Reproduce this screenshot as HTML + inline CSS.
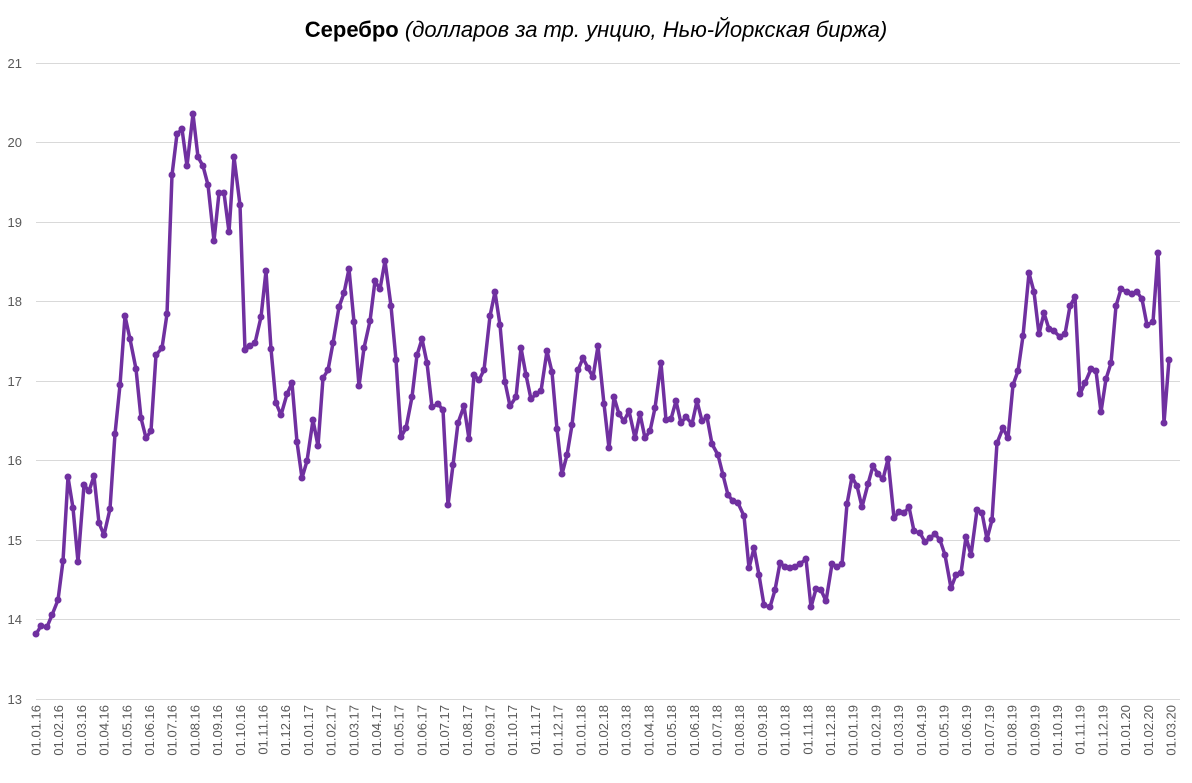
<!DOCTYPE html>
<html><head><meta charset="utf-8"><style>
body{margin:0;background:#fff;}
svg text{font-family:"Liberation Sans",sans-serif;fill:#595959;}
</style></head><body>
<svg width="1192" height="778" xmlns="http://www.w3.org/2000/svg">
<text x="596" y="37" text-anchor="middle" style="font-size:22px;fill:#000"><tspan font-weight="bold">Серебро</tspan><tspan font-style="italic"> (долларов за тр. унцию, Нью-Йоркская биржа)</tspan></text>
<g stroke="#d9d9d9" stroke-width="1">
<line x1="36" x2="1180" y1="63.5" y2="63.5"/><line x1="36" x2="1180" y1="142.5" y2="142.5"/><line x1="36" x2="1180" y1="222.5" y2="222.5"/><line x1="36" x2="1180" y1="301.5" y2="301.5"/><line x1="36" x2="1180" y1="381.5" y2="381.5"/><line x1="36" x2="1180" y1="460.5" y2="460.5"/><line x1="36" x2="1180" y1="540.5" y2="540.5"/><line x1="36" x2="1180" y1="619.5" y2="619.5"/><line x1="36" x2="1180" y1="699.5" y2="699.5"/>
</g>
<g font-size="13" text-anchor="end">
<text x="22" y="68">21</text><text x="22" y="147">20</text><text x="22" y="227">19</text><text x="22" y="306">18</text><text x="22" y="386">17</text><text x="22" y="465">16</text><text x="22" y="545">15</text><text x="22" y="624">14</text><text x="22" y="704">13</text>
</g>
<g id="xl" font-size="13" text-anchor="end"></g>
<polyline id="ln" fill="none" stroke="#7030a0" stroke-width="3.5" stroke-linejoin="round" points=""/>
<g id="dots" fill="#7030a0"></g>
</svg>
<script>
var p=[36,634,41,626,47,627,52,615,58,600,63,561,68,477,73,508,78,562,84,485,89,491,94,476,99,523,104,535,110,509,115,434,120,385,125,316,130,339,136,369,141,418,146,438,151,431,156,355,162,348,167,314,172,175,177,134,182,129,187,166,193,114,198,157,203,166,208,185,214,241,219,193,224,193,229,232,234,157,240,205,245,350,250,346,255,343,261,317,266,271,271,349,276,403,281,415,287,394,292,383,297,442,302,478,307,461,313,420,318,446,323,378,328,370,333,343,339,307,344,293,349,269,354,322,359,386,364,348,370,321,375,281,380,289,385,261,391,306,396,360,401,437,406,428,412,397,417,355,422,339,427,363,432,407,438,404,443,410,448,505,453,465,458,423,464,406,469,439,474,375,479,380,484,370,490,316,495,292,500,325,505,382,510,406,516,397,521,348,526,375,531,399,536,394,541,391,547,351,552,372,557,429,562,474,567,455,572,425,578,370,583,358,588,368,593,377,598,346,604,404,609,448,614,397,619,414,624,421,629,411,635,438,640,414,645,438,650,431,655,408,661,363,666,420,671,419,676,401,681,423,686,417,692,424,697,401,702,421,707,417,712,444,718,455,723,475,728,495,733,501,738,503,744,516,749,568,754,548,759,575,764,605,770,607,775,590,780,563,785,567,790,568,795,567,800,564,806,559,811,607,816,589,821,590,826,601,832,564,837,567,842,564,847,504,852,477,857,486,862,507,868,484,873,466,878,474,883,479,888,459,894,518,899,512,904,513,909,507,914,531,920,533,925,542,930,538,935,534,940,540,945,555,951,588,956,575,961,573,966,537,971,555,977,510,982,513,987,539,992,520,997,443,1003,428,1008,438,1013,385,1018,371,1023,336,1029,273,1034,292,1039,334,1044,313,1049,329,1054,331,1060,337,1065,334,1070,306,1075,297,1080,394,1085,383,1091,369,1096,371,1101,412,1106,379,1111,363,1116,306,1121,289,1127,292,1132,294,1137,292,1142,299,1147,325,1153,322,1158,253,1164,423,1169,360];
var s="",NS="http://www.w3.org/2000/svg";
var g=document.getElementById("dots");
for(var i=0;i<p.length;i+=2){s+=p[i]+","+p[i+1]+" ";var c=document.createElementNS(NS,"circle");c.setAttribute("cx",p[i]);c.setAttribute("cy",p[i+1]);c.setAttribute("r","3.5");g.appendChild(c);}
document.getElementById("ln").setAttribute("points",s);
var xl=document.getElementById("xl");
for(var m=0;m<51;m++){var yr=16+Math.floor(m/12),mo=m%12+1;var x=36+m*(1171-36)/50;
var t=document.createElementNS(NS,"text");t.setAttribute("transform","translate("+(x+4.5)+",705) rotate(-90)");
t.textContent="01."+(mo<10?"0":"")+mo+"."+yr;xl.appendChild(t);}
</script>
</body></html>
